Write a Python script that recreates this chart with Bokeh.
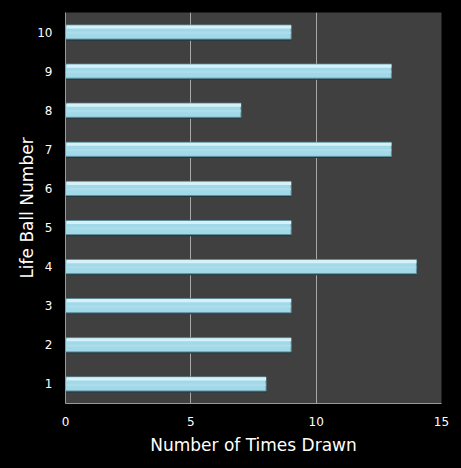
import numpy as np
from bokeh.plotting import figure
from bokeh.models import FixedTicker, ColumnDataSource
from bokeh.embed import file_html
from bokeh.resources import INLINE

balls = [1, 2, 3, 4, 5, 6, 7, 8, 9, 10]
times_drawn = [8, 9, 9, 14, 9, 9, 13, 7, 13, 9]
x_ticks = [0, 5, 10, 15]

FONT = "DejaVu Sans"

p = figure(width=461, height=468, output_backend="svg", toolbar_location=None,
           x_range=(0, 15), y_range=(0.5, 10.5),
           background_fill_color="#404040", border_fill_color="#000000",
           min_border_left=65, min_border_right=20, min_border_top=12, min_border_bottom=65)
p.outline_line_color = None

y = np.array(balls, dtype=float)
x = np.array(times_drawn, dtype=float)
src = ColumnDataSource(dict(y=y, x=x, ys=y - 0.19, yh=y + 0.13, ym=y - 0.02))

# shadow
p.hbar(y="ys", right="x", left=0, height=0.06, source=src, fill_color="#22383c", line_color=None)
# main bar
p.hbar(y="y", right="x", left=0, height=0.36, source=src, fill_color="#a2d9e8",
       line_color="#5f8f9c", line_width=1)
# highlight
p.hbar(y="yh", right="x", left=0.05, height=0.08, source=src, fill_color="#d6f1f8", line_color=None)
p.hbar(y="ym", right="x", left=0.05, height=0.06, source=src, fill_color="#b2e0ec", line_color=None, fill_alpha=0.6)

p.xaxis.ticker = FixedTicker(ticks=x_ticks)
p.yaxis.ticker = FixedTicker(ticks=balls)
p.xgrid.ticker = FixedTicker(ticks=x_ticks)
p.xgrid.grid_line_color = "#a8a8a8"
p.ygrid.grid_line_color = None

for ax in (p.xaxis[0], p.yaxis[0]):
    ax.axis_line_color = "#9a9a9a"
    ax.major_tick_line_color = None
    ax.minor_tick_line_color = None
    ax.major_label_text_color = "#ffffff"
    ax.major_label_text_font = FONT
    ax.major_label_text_font_size = "12px"
    ax.axis_label_text_color = "#ffffff"
    ax.axis_label_text_font = FONT
    ax.axis_label_text_font_style = "normal"
    ax.axis_label_text_font_size = "17px"

p.xaxis.axis_label = "Number of Times Drawn"
p.yaxis.axis_label = "Life Ball Number"
p.xaxis.major_label_standoff = 7
p.yaxis.major_label_standoff = 7
p.xaxis.axis_label_standoff = 6
p.yaxis.axis_label_standoff = -3

open("out.html", "w").write(file_html(p, INLINE).replace("<body>", "<body style=\"background:#000000\">"))
